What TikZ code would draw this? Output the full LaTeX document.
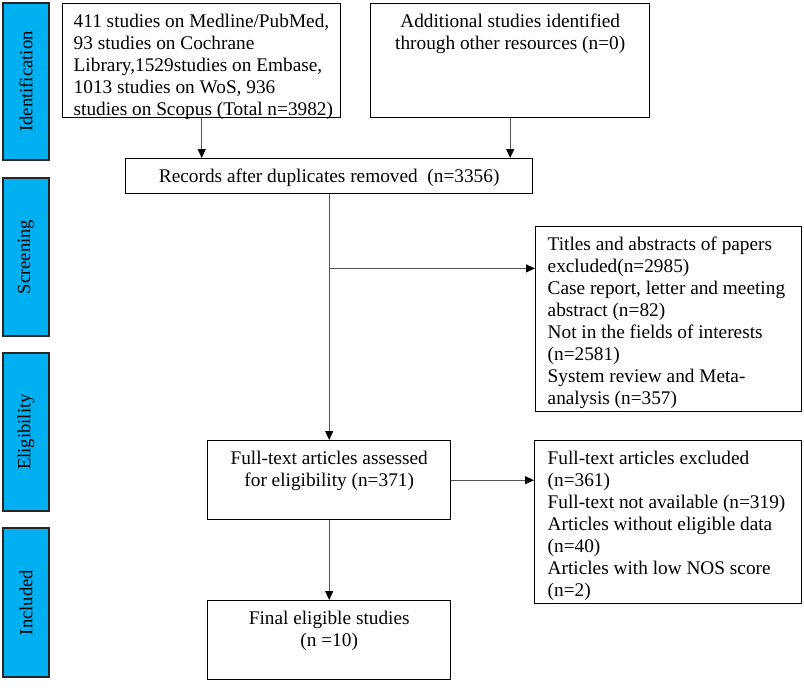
\documentclass[tikz,border=0pt]{standalone}
\usepackage{fontspec}
\setmainfont{Liberation Serif}
\usetikzlibrary{arrows.meta}
\definecolor{barblue}{RGB}{0,176,240}
\definecolor{linegray}{RGB}{85,85,85}
\newcommand{\bxt}[3]{\parbox[c][#2][t]{#1}{\vspace*{8pt}#3}}
\tikzset{
  bx/.style={draw=black, line width=1.4pt, inner xsep=11pt, inner ysep=0pt, anchor=north west, fill=white,
    font=\fontsize{19.3}{22}\selectfont},
  sidebar/.style={draw=black!85, line width=1.4pt, fill=barblue, inner sep=0pt, rotate=90,
    font=\fontsize{18.6}{22}\selectfont},
  conn/.style={draw=linegray, line width=1.1pt},
  arr/.style={conn, -{Triangle[length=9pt,width=8pt,color=black,fill=black]}},
}
\begin{document}
\begin{tikzpicture}[x=1pt,y=-1pt]
\useasboundingbox (0,0) rectangle (804,689);
% side bars
\node[sidebar, minimum width=157pt, minimum height=46pt] (idbar) at (26,81.5) {Identification};
\node[sidebar, minimum width=158pt, minimum height=46pt] (scrbar) at (26,257) {Screening};
\node[sidebar, minimum width=158pt, minimum height=46pt] (eligbar) at (26,432) {Eligibility};
\node[sidebar, minimum width=149pt, minimum height=46pt] (inclbar) at (26,602.5) {Included};
% boxes
\node[bx] (box1) at (62,3) {\bxt{256pt}{114pt}{\raggedright\strut\mbox{411 studies on Medline/PubMed,}\\
93 studies on Cochrane\\
\mbox{Library,1529studies on Embase,}\\
1013 studies on WoS, 936\\
\mbox{studies on Scopus (Total n=3982)}}};
\node[bx] (box2) at (370,3) {\bxt{257pt}{114pt}{\centering\strut Additional studies identified\\
through other resources (n=0)}};
\node[bx] (rec) at (125,158) {\bxt{385pt}{35pt}{\centering\strut Records after duplicates removed\ \ (n=3356)}};
\node[bx, inner xsep=12pt] (titles) at (535,226) {\bxt{242pt}{185pt}{\raggedright\strut Titles and abstracts of papers\\
excluded(n=2985)\\
Case report, letter and meeting\\
abstract (n=82)\\
Not in the fields of interests\\
(n=2581)\\
System review and Meta-\\
analysis (n=357)}};
\node[bx] (full) at (207,440) {\bxt{221pt}{79pt}{\centering\strut Full-text articles assessed\\
for eligibility (n=371)}};
\node[bx, inner xsep=13pt] (excl) at (534,440) {\bxt{241pt}{163pt}{\raggedright\strut Full-text articles excluded\\
(n=361)\\
Full-text not available (n=319)\\
Articles without eligible data\\
(n=40)\\
Articles with low NOS score\\
(n=2)}};
\node[bx] (final) at (207,600) {\bxt{221pt}{79pt}{\centering\strut Final eligible studies\\
(n =10)}};
% connectors
\draw[arr] (box1.south) -- (box1.south |- rec.north);
\draw[arr] (box2.south) -- (box2.south |- rec.north);
\draw[arr] (rec.south) -- (full.north);
\path (rec.south) ++(0,74) coordinate (br);
\draw[arr] (br) -- (br -| titles.west);
\draw[arr] (full.east) -- (full.east -| excl.west);
\draw[arr] (full.south) -- (final.north);
\end{tikzpicture}
\end{document}
